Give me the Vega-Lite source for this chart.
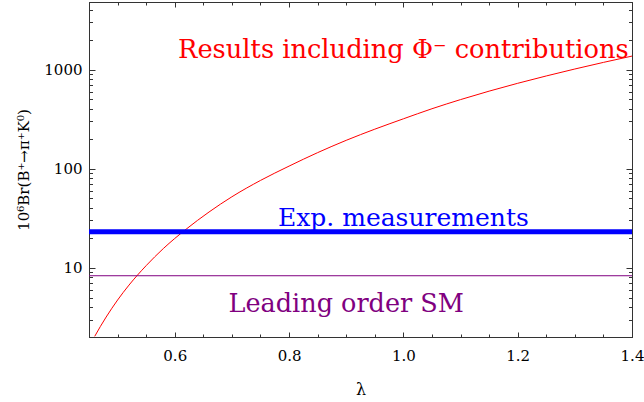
{
  "$schema": "https://vega.github.io/schema/vega-lite/v6.json",
  "autosize": {"type": "none"},
  "padding": {"left": 89, "top": 2, "right": 12, "bottom": 65},
  "width": 543,
  "height": 335,
  "background": "white",
  "config": {
    "view": {"stroke": null},
    "font": "DejaVu Serif",
    "axis": {"grid": false, "domainColor": "#333333", "domainWidth": 1, "tickColor": "#333333", "labelColor": "black", "titleColor": "black", "titleFontWeight": "normal", "labelFlush": false, "labelOverlap": false}
  },
  "datasets": {
    "curve": [
      {"lambda": 0.46, "br": 2.03},
      {"lambda": 0.47, "br": 2.56},
      {"lambda": 0.48, "br": 3.18},
      {"lambda": 0.5, "br": 4.72},
      {"lambda": 0.52, "br": 6.68},
      {"lambda": 0.55, "br": 10.5},
      {"lambda": 0.58, "br": 15.6},
      {"lambda": 0.62, "br": 24.5},
      {"lambda": 0.66, "br": 36.5},
      {"lambda": 0.7, "br": 52},
      {"lambda": 0.75, "br": 76},
      {"lambda": 0.8, "br": 106},
      {"lambda": 0.85, "br": 145},
      {"lambda": 0.9, "br": 193},
      {"lambda": 0.95, "br": 250},
      {"lambda": 1.0, "br": 318},
      {"lambda": 1.05, "br": 402},
      {"lambda": 1.1, "br": 497},
      {"lambda": 1.15, "br": 605},
      {"lambda": 1.2, "br": 726},
      {"lambda": 1.25, "br": 861},
      {"lambda": 1.3, "br": 1012},
      {"lambda": 1.35, "br": 1180},
      {"lambda": 1.4, "br": 1366}
    ],
    "exp": [{"lambda": 0.45, "lambda2": 1.4, "br": 23.1}],
    "lo": [{"lambda": 0.45, "lambda2": 1.4, "br": 8.3}],
    "lab1": [{"lambda": 1.0, "br": 1300, "label": "Results including Φ⁻ contributions"}],
    "lab2": [{"lambda": 1.0, "br": 26.5, "label": "Exp. measurements"}],
    "lab3": [{"lambda": 0.9, "br": 3.6, "label": "Leading order SM"}]
  },
  "resolve": {"axis": {"x": "independent", "y": "independent"}},
  "layer": [
    {
      "data": {"name": "curve"},
      "mark": {"type": "line", "color": "#ff0000", "strokeWidth": 1, "interpolate": "monotone", "clip": true},
      "encoding": {
        "x": {"field": "lambda", "type": "quantitative", "scale": {"domain": [0.45, 1.4], "nice": false, "zero": false},
          "axis": {"orient": "bottom", "values": [0.6, 0.8, 1.0, 1.2, 1.4], "format": ".1f", "tickSize": -5, "labelPadding": 16, "labelFont": "DejaVu Serif", "labelFontSize": 15, "title": "λ", "titleFont": "DejaVu Serif", "titleFontSize": 16, "titlePadding": 18}},
        "y": {"field": "br", "type": "quantitative", "scale": {"type": "log", "domain": [2, 4800], "nice": false, "zero": false},
          "axis": {"orient": "left", "values": [10, 100, 1000], "format": "d", "tickSize": -6, "labelPadding": 13, "labelFont": "DejaVu Serif", "labelFontSize": 15, "title": "10⁶Br(B⁺→π⁺K⁰)", "titleFont": "DejaVu Serif", "titleFontSize": 15, "titlePadding": 12}}
      }
    },
    {
      "data": {"name": "exp"},
      "mark": {"type": "rule", "color": "#0000ff", "strokeWidth": 5},
      "encoding": {
        "x": {"field": "lambda", "type": "quantitative", "axis": {"orient": "top", "values": [0.6, 0.8, 1.0, 1.2, 1.4], "labels": false, "tickSize": -5, "title": null}},
        "x2": {"field": "lambda2"},
        "y": {"field": "br", "type": "quantitative", "axis": {"orient": "right", "values": [10, 100, 1000], "labels": false, "tickSize": -6, "title": null}}
      }
    },
    {
      "data": {"name": "lo"},
      "mark": {"type": "rule", "color": "#800080", "strokeWidth": 1},
      "encoding": {
        "x": {"field": "lambda", "type": "quantitative", "axis": {"orient": "bottom", "values": [0.45, 0.5, 0.55, 0.65, 0.7, 0.75, 0.85, 0.9, 0.95, 1.05, 1.1, 1.15, 1.25, 1.3, 1.35], "labels": false, "tickSize": -3, "title": null}},
        "x2": {"field": "lambda2"},
        "y": {"field": "br", "type": "quantitative", "axis": {"orient": "left", "values": [2, 3, 4, 5, 6, 7, 8, 9, 20, 30, 40, 50, 60, 70, 80, 90, 200, 300, 400, 500, 600, 700, 800, 900, 2000, 3000, 4000], "labels": false, "tickSize": -3.5, "title": null}}
      }
    },
    {
      "data": {"name": "lab1"},
      "mark": {"type": "text", "color": "#ff0000", "font": "DejaVu Serif", "fontSize": 25.7, "align": "center", "baseline": "alphabetic"},
      "encoding": {
        "x": {"field": "lambda", "type": "quantitative", "axis": {"orient": "top", "values": [0.45, 0.5, 0.55, 0.65, 0.7, 0.75, 0.85, 0.9, 0.95, 1.05, 1.1, 1.15, 1.25, 1.3, 1.35], "labels": false, "tickSize": -3, "title": null}},
        "y": {"field": "br", "type": "quantitative", "axis": {"orient": "right", "values": [2, 3, 4, 5, 6, 7, 8, 9, 20, 30, 40, 50, 60, 70, 80, 90, 200, 300, 400, 500, 600, 700, 800, 900, 2000, 3000, 4000], "labels": false, "tickSize": -3.5, "title": null}},
        "text": {"field": "label"}
      }
    },
    {
      "data": {"name": "lab2"},
      "mark": {"type": "text", "color": "#0000ff", "font": "DejaVu Serif", "fontSize": 25, "align": "center", "baseline": "alphabetic"},
      "encoding": {
        "x": {"field": "lambda", "type": "quantitative", "axis": null},
        "y": {"field": "br", "type": "quantitative", "axis": null},
        "text": {"field": "label"}
      }
    },
    {
      "data": {"name": "lab3"},
      "mark": {"type": "text", "color": "#800080", "font": "DejaVu Serif", "fontSize": 25.5, "align": "center", "baseline": "alphabetic"},
      "encoding": {
        "x": {"field": "lambda", "type": "quantitative", "axis": null},
        "y": {"field": "br", "type": "quantitative", "axis": null},
        "text": {"field": "label"}
      }
    }
  ]
}
